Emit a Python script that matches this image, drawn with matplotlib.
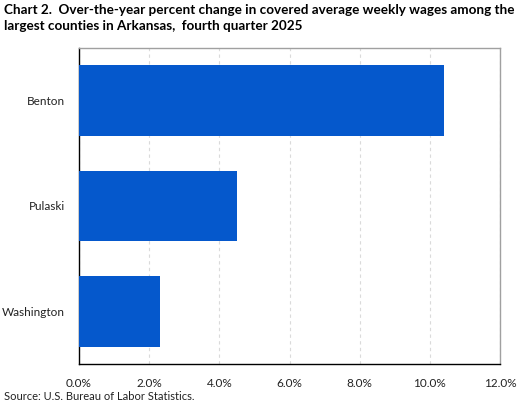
import matplotlib
matplotlib.use("Agg")
import matplotlib.pyplot as plt
from matplotlib.ticker import FuncFormatter, MultipleLocator

counties = ["Benton", "Pulaski", "Washington"]
pct_change = [10.4, 4.5, 2.3]
title = ("Chart 2.  Over-the-year percent change in covered average weekly wages among the\n"
         "largest counties in Arkansas,  fourth quarter 2025")
source = "Source: U.S. Bureau of Labor Statistics."

plt.rcParams['font.family'] = ['Lato', 'DejaVu Sans']

fig = plt.figure(figsize=(5.25, 4.03), dpi=100)
ax = fig.add_axes([79/525, 1-364/403, (500-79)/525, (364-48)/403])

ypos = list(range(len(counties)))
ax.barh(ypos, pct_change, height=0.67, color="#0558CC", zorder=3)
ax.set_yticks(ypos)
ax.set_yticklabels(counties, fontsize=8.5, color="#222222")
ax.set_ylim(2.5, -0.5)
ax.set_xlim(0, 12)
ax.xaxis.set_major_locator(MultipleLocator(2))
ax.xaxis.set_major_formatter(FuncFormatter(lambda v, p: f"{v:.1f}%"))
ax.tick_params(axis='x', labelsize=8.5, colors="#222222", length=0, pad=10)
ax.tick_params(axis='y', length=0, pad=10)
ax.grid(axis='x', color="#DADADA", linestyle=(0, (3, 3)), linewidth=0.8, zorder=0)
for s in ['top', 'right']:
    ax.spines[s].set_color("#A0A0A0")
    ax.spines[s].set_linewidth(1)
for s in ['left', 'bottom']:
    ax.spines[s].set_color("#000000")
    ax.spines[s].set_linewidth(1)

fig.text(4/525, 1-4/403, title, ha='left', va='top', fontsize=9.7, fontweight='bold',
         color="#000000", linespacing=1.4)
fig.text(4/525, 1-396/403, source, ha='left', va='center', fontsize=8, color="#222222")

fig.savefig("out.png", dpi=100)
